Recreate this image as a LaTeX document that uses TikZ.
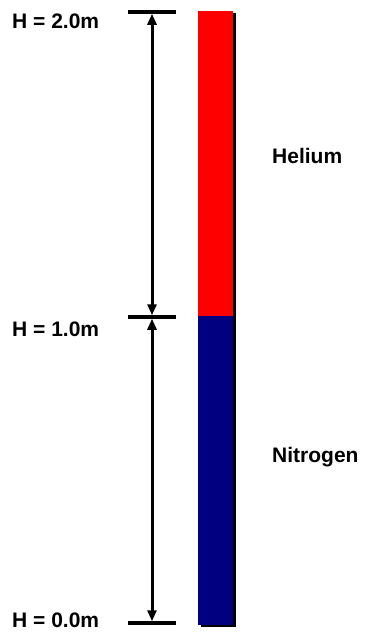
\documentclass[tikz,border=0pt]{standalone}
\usepackage{fontspec}
\setmainfont{Liberation Sans}
\usetikzlibrary{arrows.meta,positioning,calc}
\definecolor{HeliumRed}{RGB}{255,0,0}
\definecolor{NitrogenBlue}{RGB}{0,0,128}

\begin{document}
\begin{tikzpicture}[x=1pt,y=-1pt,>={Triangle[length=11pt,width=9pt]},
  lbl/.style={anchor=base west,inner sep=0pt,font=\fontsize{21}{21}\selectfont\bfseries},
  tick/.style={line width=3.5pt}]
  \useasboundingbox (0,0) rectangle (366,633);
  % gas column with shadow
  \fill[black] (200.5,12.5) rectangle (236,627);
  \fill[HeliumRed] (198,11) rectangle (233,316);
  \fill[NitrogenBlue] (198,316) rectangle (233,624.5);
  % height marks
  \coordinate (top) at (152,12);
  \coordinate (mid) at (152,317);
  \coordinate (bot) at (152,623);
  \draw[tick] ($(top)+(-24,0)$)--($(top)+(24,0)$);
  \draw[tick] ($(mid)+(-24,0)$)--($(mid)+(24,0)$);
  \draw[tick] ($(bot)+(-24,0)$)--($(bot)+(24,0)$);
  \draw[<->,line width=3pt] ($(top)+(0,1.75)$)--($(mid)+(0,-1.75)$);
  \draw[<->,line width=3pt] ($(mid)+(0,1.75)$)--($(bot)+(0,-1.75)$);
  \node[lbl] (h2) at (12,28) {H = 2.0m};
  \node[lbl] (h1) at (12,336) {H = 1.0m};
  \node[lbl] (h0) at (12,627) {H = 0.0m};
  \node[lbl] (he) at (272,163) {Helium};
  \node[lbl] (ni) at (272,462) {Nitrogen};
\end{tikzpicture}
\end{document}
